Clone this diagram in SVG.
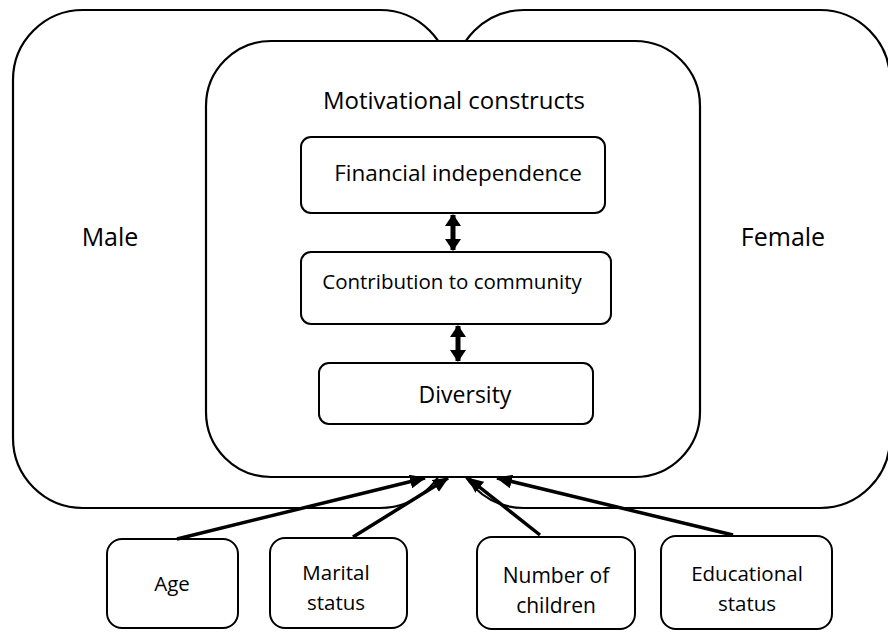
<svg xmlns="http://www.w3.org/2000/svg" width="888" height="632" viewBox="0 0 888 632">
<style>
.big{fill:#fff;stroke:#000;stroke-width:2.2}
.box{fill:#fff;stroke:#000;stroke-width:2}
.t{font-family:"Open Sans","Liberation Sans",sans-serif;fill:#000;text-anchor:middle}
.conn{stroke:#000;stroke-width:3.5;fill:none}
.dbl{stroke:#000;stroke-width:5;fill:none}
</style>
<defs>
<marker id="ah" markerUnits="userSpaceOnUse" markerWidth="16" markerHeight="14" refX="15" refY="7" orient="auto-start-reverse" viewBox="0 0 16 14">
<path d="M0,0 L16,7 L0,14 z" fill="#000"/>
</marker>
<marker id="dh" markerUnits="userSpaceOnUse" markerWidth="12" markerHeight="16" refX="11" refY="8" orient="auto-start-reverse" viewBox="0 0 12 16">
<path d="M0,0 L12,8 L0,16 z" fill="#000"/>
</marker>
</defs>
<g id="male">
<rect class="big" x="13" y="10" width="437" height="498" rx="70"/>
<text class="t" x="110" y="246" font-size="25">Male</text>
</g>
<g id="female">
<rect class="big" x="454" y="10" width="436" height="498" rx="70"/>
<text class="t" x="783" y="246" font-size="25">Female</text>
</g>
<g id="motivational">
<rect class="big" x="206" y="41" width="494" height="436" rx="65"/>
<text class="t" x="454" y="109" font-size="24">Motivational constructs</text>
</g>
<g id="financial">
<rect class="box" x="301" y="137" width="304" height="76" rx="10"/>
<text class="t" x="458" y="181" font-size="22.5">Financial independence</text>
</g>
<g id="contribution">
<rect class="box" x="301" y="252" width="310" height="72" rx="10"/>
<text class="t" x="452" y="289" font-size="20.5">Contribution to community</text>
</g>
<g id="diversity">
<rect class="box" x="319" y="363" width="274" height="61" rx="10"/>
<text class="t" x="465" y="403" font-size="23">Diversity</text>
</g>
<g id="age">
<rect class="box" x="107" y="539" width="131" height="89" rx="15"/>
<text class="t" x="172" y="591" font-size="20.5">Age</text>
</g>
<g id="marital">
<rect class="box" x="270" y="538" width="137" height="90" rx="15"/>
<text class="t" x="336" y="580" font-size="20.5">Marital</text>
<text class="t" x="336" y="610" font-size="20.5">status</text>
</g>
<g id="children">
<rect class="box" x="477" y="537" width="158" height="92" rx="15"/>
<text class="t" x="556" y="583" font-size="21">Number of</text>
<text class="t" x="556" y="613" font-size="21">children</text>
</g>
<g id="educational">
<rect class="box" x="661" y="536" width="171" height="93" rx="15"/>
<text class="t" x="747" y="581" font-size="20.5">Educational</text>
<text class="t" x="747" y="611" font-size="20.5">status</text>
</g>
<g id="connectors">
<line class="dbl" x1="453" y1="215" x2="453" y2="250" marker-start="url(#dh)" marker-end="url(#dh)"/>
<line class="dbl" x1="458" y1="326" x2="458" y2="361" marker-start="url(#dh)" marker-end="url(#dh)"/>
<line class="conn" x1="177" y1="539" x2="425" y2="478" marker-end="url(#ah)"/>
<line class="conn" x1="353" y1="537" x2="448" y2="478" marker-end="url(#ah)"/>
<line class="conn" x1="540" y1="535" x2="468" y2="478" marker-end="url(#ah)"/>
<line class="conn" x1="733" y1="535" x2="497" y2="478" marker-end="url(#ah)"/>
</g>
</svg>
